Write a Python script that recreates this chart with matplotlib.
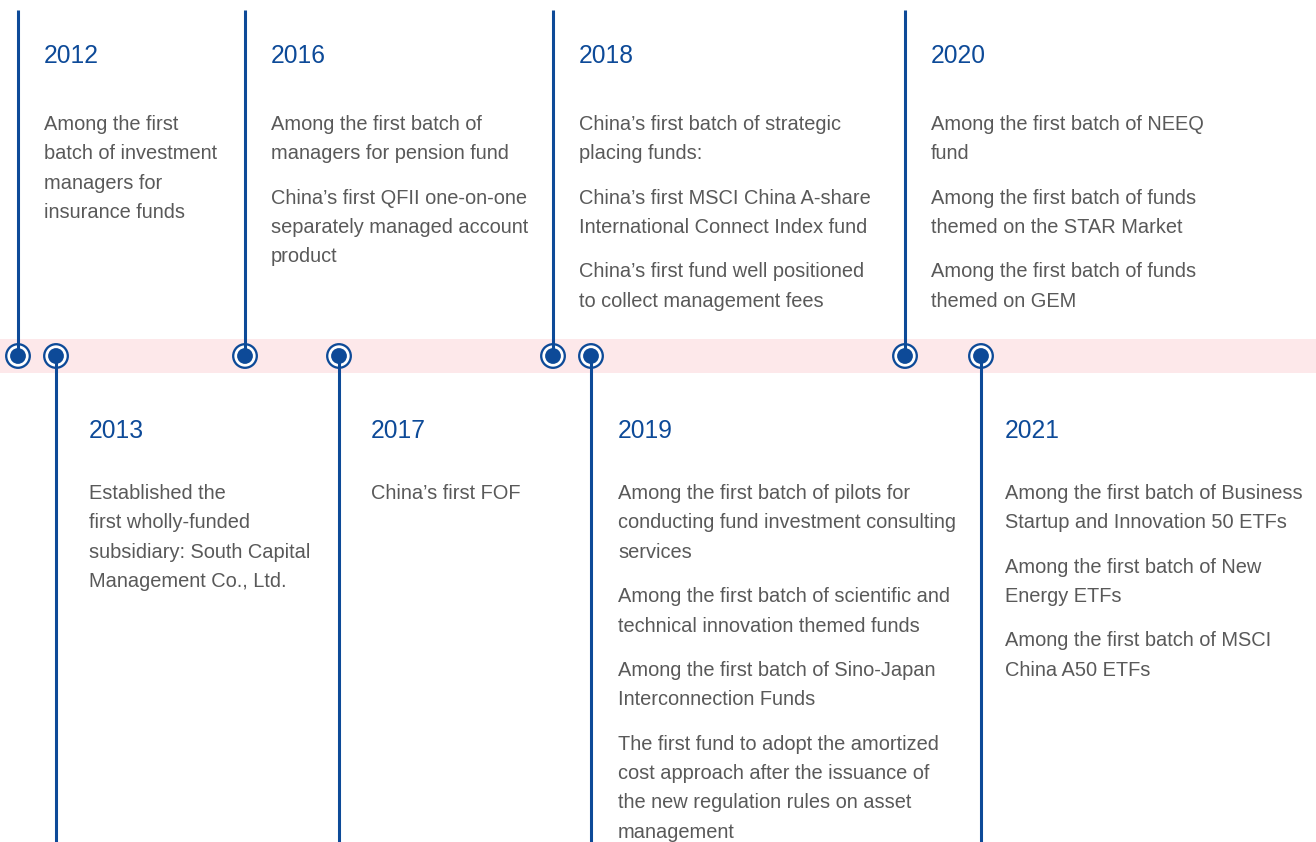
import matplotlib.pyplot as plt
from matplotlib.patches import Circle, Rectangle

plt.rcParams["font.family"] = ["Liberation Sans", "DejaVu Sans"]

# --- data ---
top_years = ["2012", "2016", "2018", "2020"]
top_items = [
    [["Among the first", "batch of investment", "managers for", "insurance funds"]],
    [
        ["Among the first batch of", "managers for pension fund"],
        ["China\u2019s first QFII one-on-one", "separately managed account", "product"],
    ],
    [
        ["China\u2019s first batch of strategic", "placing funds:"],
        ["China\u2019s first MSCI China A-share", "International Connect Index fund"],
        ["China\u2019s first fund well positioned", "to collect management fees"],
    ],
    [
        ["Among the first batch of NEEQ", "fund"],
        ["Among the first batch of funds", "themed on the STAR Market"],
        ["Among the first batch of funds", "themed on GEM"],
    ],
]

bottom_years = ["2013", "2017", "2019", "2021"]
bottom_items = [
    [["Established the", "first wholly-funded", "subsidiary: South Capital", "Management Co., Ltd."]],
    [["China\u2019s first FOF"]],
    [
        ["Among the first batch of pilots for", "conducting fund investment consulting", "services"],
        ["Among the first batch of scientific and", "technical innovation themed funds"],
        ["Among the first batch of Sino-Japan", "Interconnection Funds"],
        ["The first fund to adopt the amortized", "cost approach after the issuance of",
         "the new regulation rules on asset", "management"],
    ],
    [
        ["Among the first batch of Business", "Startup and Innovation 50 ETFs"],
        ["Among the first batch of New", "Energy ETFs"],
        ["Among the first batch of MSCI", "China A50 ETFs"],
    ],
]

# --- layout (pixels) ---
W, H = 1316, 842
top_marker_x = [18, 245, 553, 905]
top_text_x = [44, 271, 579, 931]
bottom_marker_x = [56, 339, 591, 981]
bottom_text_x = [89, 371, 618, 1005]
axis_y = 356
line_step = 29.4
para_step = 44.3

blue = "#0d4a98"
grey = "#595959"
band = "#fde8ea"

fig = plt.figure(figsize=(W / 100, H / 100), dpi=100)
ax = fig.add_axes([0, 0, 1, 1])
ax.set_xlim(0, W)
ax.set_ylim(H, 0)
ax.axis("off")

ax.add_patch(Rectangle((0, 339), W, 34, color=band, lw=0, zorder=1))


def marker(x):
    # white fill under the stem, ring and dot on top
    ax.add_patch(Circle((x, axis_y), 12.0, facecolor="white", edgecolor="none", zorder=2))
    ax.add_patch(Circle((x, axis_y), 11.8, facecolor="none", edgecolor=blue, lw=1.65, zorder=4))
    ax.add_patch(Circle((x, axis_y), 7.9, facecolor=blue, edgecolor="none", zorder=5))


def block(x, year_y, body_y, year, paras):
    ax.text(x, year_y, year, color=blue, fontsize=17.7, va="baseline", ha="left")
    y = body_y
    for para in paras:
        for i, line in enumerate(para):
            ax.text(x, y + i * line_step, line, color=grey, fontsize=14.4,
                    va="baseline", ha="left")
        y += (len(para) - 1) * line_step + para_step


for mx, tx, yr, paras in zip(top_marker_x, top_text_x, top_years, top_items):
    ax.plot([mx, mx], [10, axis_y], color=blue, lw=2.2, zorder=3, solid_capstyle="butt")
    marker(mx)
    block(tx, 63, 130, yr, paras)

for mx, tx, yr, paras in zip(bottom_marker_x, bottom_text_x, bottom_years, bottom_items):
    ax.plot([mx, mx], [axis_y, H], color=blue, lw=2.2, zorder=3, solid_capstyle="butt")
    marker(mx)
    block(tx, 438, 499, yr, paras)

fig.savefig("out.png", dpi=100)
